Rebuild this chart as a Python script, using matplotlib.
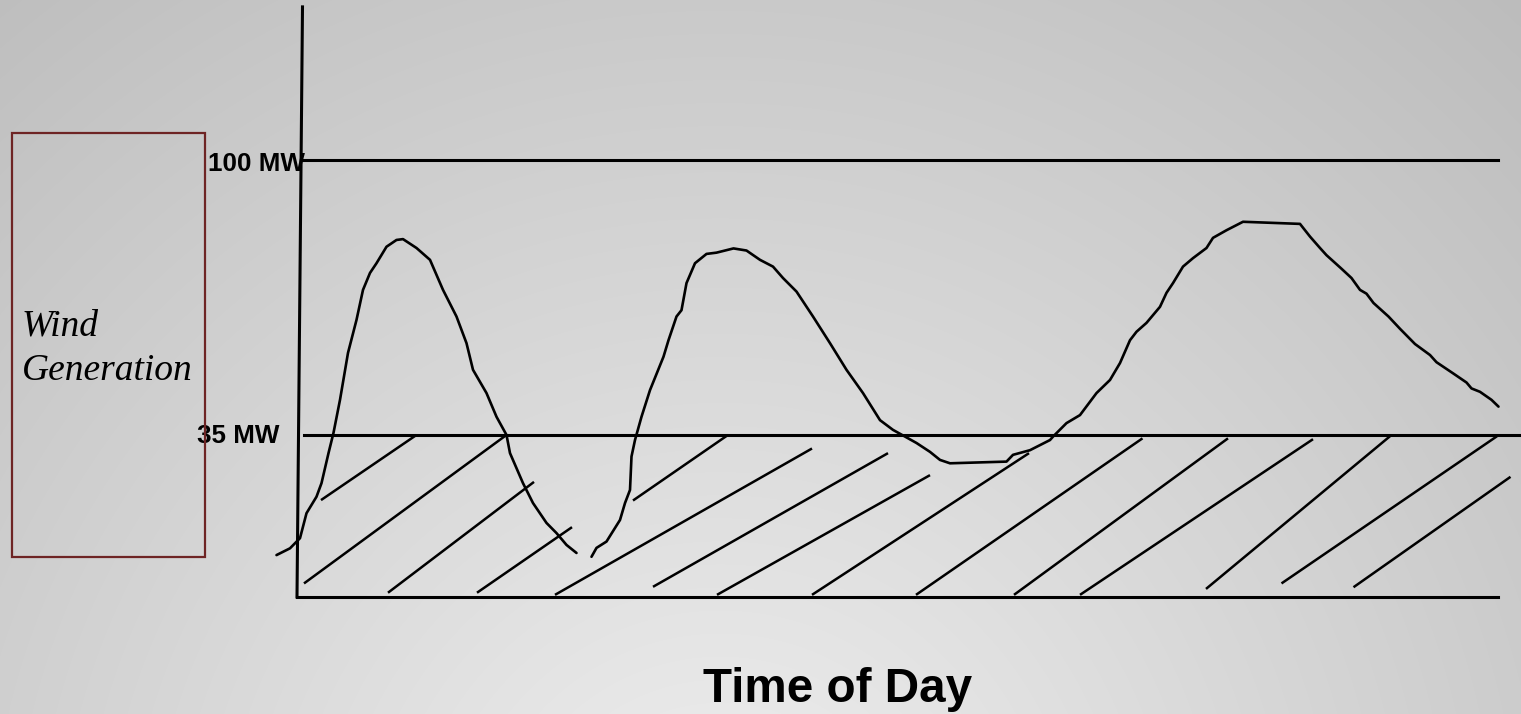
import numpy as np
import matplotlib
matplotlib.use("Agg")
import matplotlib.pyplot as plt
from matplotlib.patches import Rectangle

# ---- data (x: hour of day, y: MW) ----
curve1_hours = [-0.41, -0.14, 0.06, 0.19, 0.39, 0.49, 0.63, 0.73, 0.86, 1.02, 1.19, 1.32,
                1.46, 1.59, 1.79, 1.99, 2.12, 2.39, 2.66, 2.92, 3.19, 3.39, 3.52, 3.79,
                3.99, 4.19, 4.26, 4.52, 4.72, 4.99, 5.19, 5.39, 5.59]
curve1_mw = [6.6, 8.2, 10.6, 16.5, 20.4, 23.6, 30.7, 35.5, 43.3, 54.4, 62.2, 69.3,
             73.3, 75.6, 79.5, 81.1, 81.3, 79.2, 76.4, 69.3, 63.0, 56.7, 50.4, 44.9,
             39.3, 35.0, 30.7, 23.6, 18.9, 14.2, 11.8, 9.0, 7.1]

curve2_hours = [5.89, 5.99, 6.19, 6.46, 6.56, 6.66, 6.69, 6.76, 6.89, 7.06, 7.33, 7.43,
                7.59, 7.69, 7.79, 7.96, 8.19, 8.39, 8.73, 8.99, 9.26, 9.52, 9.72, 9.99,
                10.32, 10.66, 10.99, 11.32, 11.66, 11.92, 12.39, 12.66, 12.86, 13.06,
                14.19, 14.32, 14.66, 15.06, 15.12, 15.39, 15.66, 15.99, 16.26, 16.46,
                16.66, 16.79, 16.99, 17.26, 17.39, 17.52, 17.72, 17.92, 18.19, 18.32,
                18.59, 18.92, 20.06, 20.26, 20.46, 20.59, 20.89, 21.09, 21.26, 21.39,
                21.53, 21.83, 22.06, 22.36, 22.66, 22.79, 23.13, 23.39, 23.49, 23.66,
                23.89, 24.03]
curve2_mw = [6.2, 8.3, 9.8, 14.9, 18.9, 22.0, 29.9, 33.8, 39.3, 45.6, 53.5, 57.4,
             63.0, 64.5, 70.9, 75.6, 77.8, 78.1, 79.1, 78.6, 76.4, 74.8, 72.1, 68.9,
             63.0, 56.7, 50.4, 44.9, 38.5, 36.2, 33.1, 31.0, 29.1, 28.3,
             28.7, 30.3, 31.4, 33.8, 34.6, 37.8, 39.7, 44.9, 48.0, 52.0,
             57.4, 59.4, 61.5, 65.3, 68.6, 70.9, 74.8, 76.8, 79.2, 81.6,
             83.4, 85.4, 84.9, 81.9, 79.2, 77.5, 74.3, 72.1, 69.3, 68.4,
             66.2, 63.0, 60.1, 56.5, 53.9, 52.2, 49.5, 47.4, 46.0, 45.2,
             43.3, 41.7]

# hatch strokes below 35 MW: (start hour, start MW, end hour, end MW)
hatch_x0 = [0.48, 0.14, 1.82, 3.60, 5.16, 6.72, 7.12, 8.40, 10.30, 12.38, 14.34, 15.66, 18.18, 19.69, 21.13]
hatch_y0 = [19.6, -0.1, -2.3, -2.3, -2.8, 19.5, -0.9, -2.8, -2.8, -2.8, -2.8, -2.8, -1.4, -0.1, -1.0]
hatch_x1 = [2.39, 4.19, 4.74, 5.50, 10.30, 8.62, 11.82, 12.66, 14.64, 16.91, 18.62, 20.32, 21.86, 24.00, 24.27]
hatch_y1 = [35.0, 35.0, 23.9, 13.2, 31.8, 35.0, 30.7, 25.5, 30.7, 34.2, 34.2, 34.0, 34.7, 34.7, 25.1]

level_values = [100, 35]
level_labels = ["100 MW", "35 MW"]
level_start = [0.08, 0.13]
level_end = [24.02, 24.48]
level_label_x = [-1.78, -2.0]
level_label_base = [97.5, 33.2]

baseline_mw = -3.3
axis_top_mw = 136.2

# ---- figure ----
W, H = 1521, 714
fig = plt.figure(figsize=(W / 100, H / 100), dpi=100)
ax = fig.add_axes([0, 0, 1, 1])
xmin, xmax = -5.94, 24.48
ymin, ymax = -30.97, 137.83
ax.set_xlim(xmin, xmax)
ax.set_ylim(ymin, ymax)
ax.axis("off")

# background radial gradient
yy, xx = np.mgrid[0:H, 0:W]
d = np.hypot(xx - 720, yy - 880)
g = np.clip(0.94 - 0.00017 * d, 0.70, 0.92)
bg = np.dstack([g, g, g])
ax.imshow(bg, extent=[xmin, xmax, ymin, ymax], aspect="auto", zorder=0, origin="upper")

lw_main = 2.2
lw_curve = 1.9
# axes lines
ax.plot([0.11, 0.0], [axis_top_mw, baseline_mw], color="black", lw=lw_main, zorder=3)
ax.plot([0.0, 24.02], [baseline_mw, baseline_mw], color="black", lw=lw_main, zorder=3)
for v, x0, x1 in zip(level_values, level_start, level_end):
    ax.plot([x0, x1], [v, v], color="black", lw=lw_main, zorder=3)

# hatch strokes
for a, b, c, e in zip(hatch_x0, hatch_y0, hatch_x1, hatch_y1):
    ax.plot([a, c], [b, e], color="black", lw=1.8, solid_capstyle="butt", zorder=3)

# curves
ax.plot(curve1_hours, curve1_mw, color="black", lw=lw_curve, zorder=4,
        solid_joinstyle="round", solid_capstyle="round")
ax.plot(curve2_hours, curve2_mw, color="black", lw=lw_curve, zorder=4,
        solid_joinstyle="round", solid_capstyle="round")

# labels
for lab, x, y in zip(level_labels, level_label_x, level_label_base):
    ax.text(x, y, lab, ha="left", va="baseline", fontsize=18.7, fontweight="bold",
            family="Liberation Sans", color="black", zorder=5)

ax.add_patch(Rectangle((-5.71, 6.1), 3.86, 100.4, fill=False, edgecolor="#6e2424", lw=1.6, zorder=5))
ax.text(-5.5, 58.6, "Wind", ha="left", va="baseline", fontsize=27, style="italic",
        family="Liberation Serif", color="black", zorder=5)
ax.text(-5.5, 48.0, "Generation", ha="left", va="baseline", fontsize=27, style="italic",
        family="Liberation Serif", color="black", zorder=5)

ax.text(10.81, -28.1, "Time of Day", ha="center", va="baseline", fontsize=34.3, fontweight="bold",
        family="Liberation Sans", color="black", zorder=5)

fig.savefig("out.png", dpi=100)
